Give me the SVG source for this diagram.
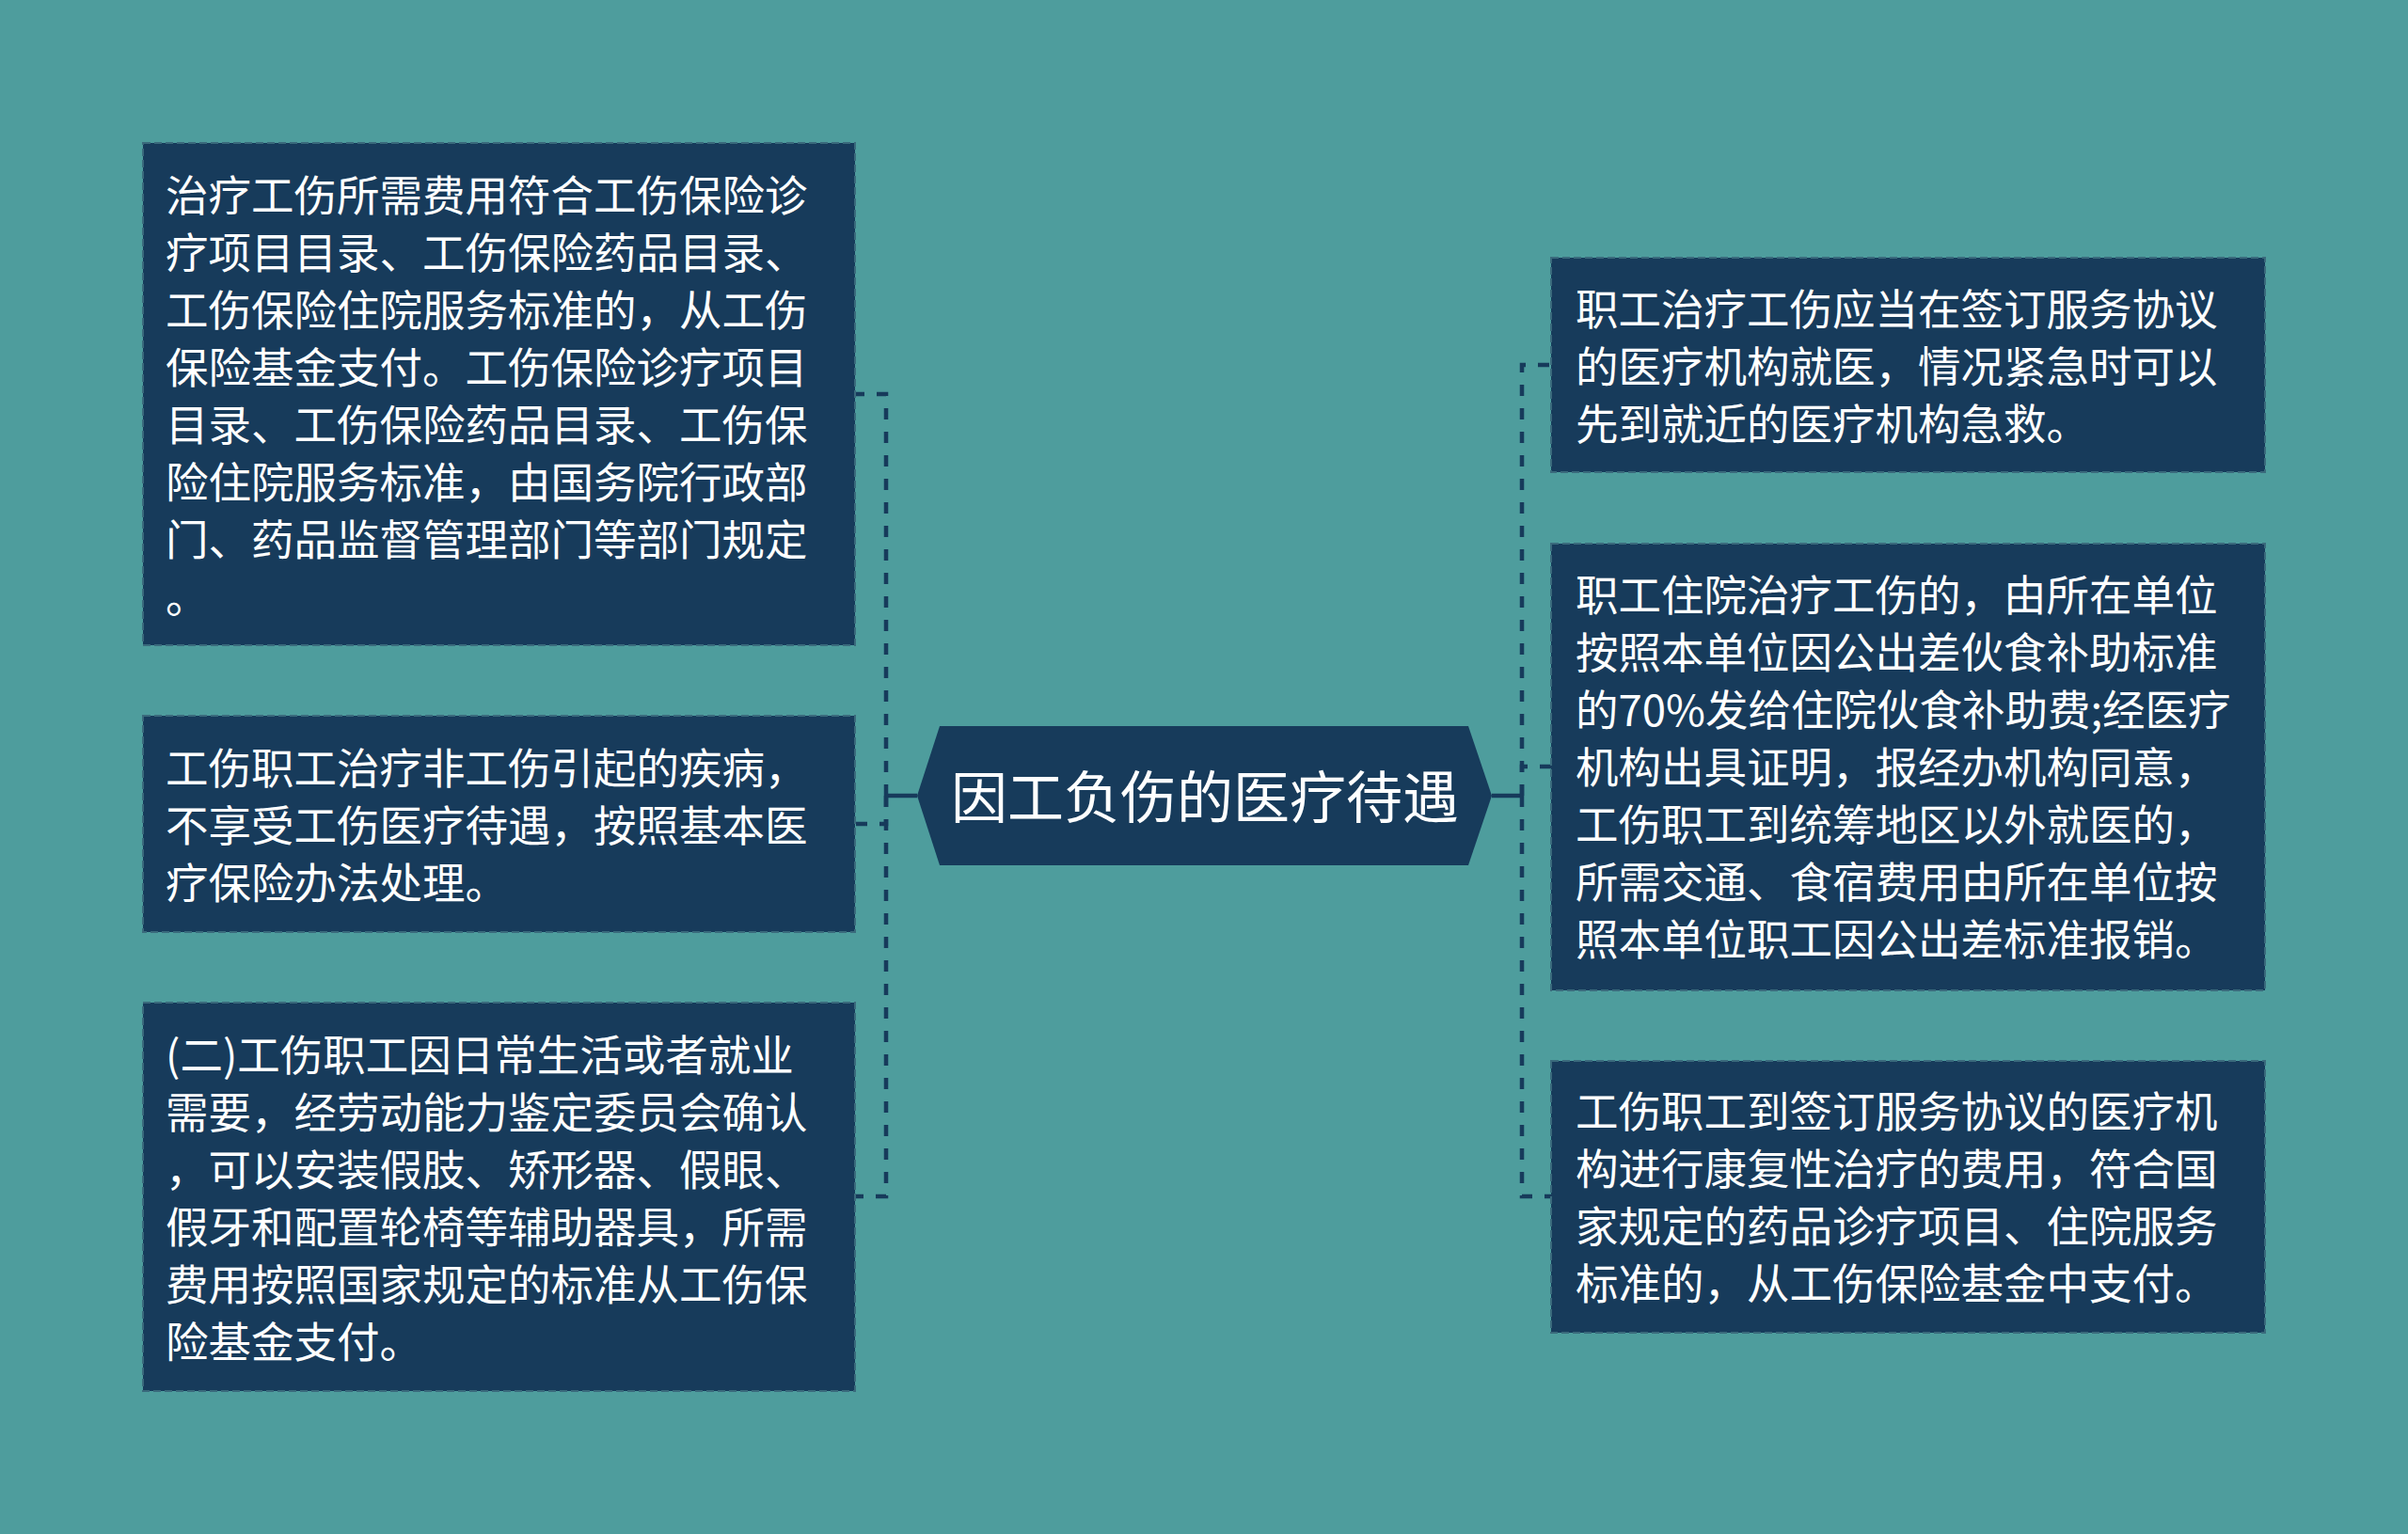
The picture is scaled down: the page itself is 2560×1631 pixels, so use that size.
<svg xmlns="http://www.w3.org/2000/svg" width="2560" height="1631" viewBox="0 0 2560 1631">
<style>
.bg{fill:#4e9d9d}
.box{fill:#173b5b;stroke:#3a6a7c;stroke-width:2;stroke-dasharray:8 4}
.t{font-family:"Noto Sans CJK SC","Noto Sans",sans-serif;font-size:45.5px;fill:#ffffff}
.title{font-family:"Noto Sans CJK SC","Noto Sans",sans-serif;font-size:60px;fill:#ffffff;text-anchor:middle}
.dash{fill:none;stroke:#173b5b;stroke-width:4.5;stroke-dasharray:12 13}
.solid{fill:none;stroke:#173b5b;stroke-width:4.5}
</style>
<rect class="bg" x="0" y="0" width="2560" height="1631"/>
<g id="connectors">
<path class="solid" d="M975 846 H942"/>
<path class="solid" d="M1586 846 H1618"/>
<path class="dash" d="M942 846 V419 H909"/>
<path class="dash" d="M942 846 V876 H909"/>
<path class="dash" d="M942 846 V1272 H909"/>
<path class="dash" d="M1618 846 V388 H1649"/>
<path class="dash" d="M1618 846 V815 H1649"/>
<path class="dash" d="M1618 846 V1272 H1649"/>
</g>
<g id="center">
<polygon points="975,846 999,772 1561,772 1586,846 1561,920 999,920" fill="#173b5b"/>
<text class="title" x="1281" y="870">因工负伤的医疗待遇</text>
</g>
<g id="left1">
<rect class="box" x="152" y="152" width="757" height="534"/>
<text class="t" x="176" y="225">治疗工伤所需费用符合工伤保险诊</text>
<text class="t" x="176" y="286">疗项目目录、工伤保险药品目录、</text>
<text class="t" x="176" y="347">工伤保险住院服务标准的，从工伤</text>
<text class="t" x="176" y="408">保险基金支付。工伤保险诊疗项目</text>
<text class="t" x="176" y="469">目录、工伤保险药品目录、工伤保</text>
<text class="t" x="176" y="530">险住院服务标准，由国务院行政部</text>
<text class="t" x="176" y="591">门、药品监督管理部门等部门规定</text>
<text class="t" x="176" y="652">。</text>
</g>
<g id="left2">
<rect class="box" x="152" y="761" width="757" height="230"/>
<text class="t" x="176" y="834">工伤职工治疗非工伤引起的疾病，</text>
<text class="t" x="176" y="895">不享受工伤医疗待遇，按照基本医</text>
<text class="t" x="176" y="956">疗保险办法处理。</text>
</g>
<g id="left3">
<rect class="box" x="152" y="1066" width="757" height="413"/>
<text class="t" x="176" y="1139">(二)工伤职工因日常生活或者就业</text>
<text class="t" x="176" y="1200">需要，经劳动能力鉴定委员会确认</text>
<text class="t" x="176" y="1261">，可以安装假肢、矫形器、假眼、</text>
<text class="t" x="176" y="1322">假牙和配置轮椅等辅助器具，所需</text>
<text class="t" x="176" y="1383">费用按照国家规定的标准从工伤保</text>
<text class="t" x="176" y="1444">险基金支付。</text>
</g>
<g id="right1">
<rect class="box" x="1649" y="274" width="759" height="228"/>
<text class="t" x="1675" y="346">职工治疗工伤应当在签订服务协议</text>
<text class="t" x="1675" y="407">的医疗机构就医，情况紧急时可以</text>
<text class="t" x="1675" y="468">先到就近的医疗机构急救。</text>
</g>
<g id="right2">
<rect class="box" x="1649" y="578" width="759" height="475"/>
<text class="t" x="1675" y="650">职工住院治疗工伤的，由所在单位</text>
<text class="t" x="1675" y="711">按照本单位因公出差伙食补助标准</text>
<text class="t" x="1675" y="772">的70%发给住院伙食补助费;经医疗</text>
<text class="t" x="1675" y="833">机构出具证明，报经办机构同意，</text>
<text class="t" x="1675" y="894">工伤职工到统筹地区以外就医的，</text>
<text class="t" x="1675" y="955">所需交通、食宿费用由所在单位按</text>
<text class="t" x="1675" y="1016">照本单位职工因公出差标准报销。</text>
</g>
<g id="right3">
<rect class="box" x="1649" y="1128" width="759" height="289"/>
<text class="t" x="1675" y="1199">工伤职工到签订服务协议的医疗机</text>
<text class="t" x="1675" y="1260">构进行康复性治疗的费用，符合国</text>
<text class="t" x="1675" y="1321">家规定的药品诊疗项目、住院服务</text>
<text class="t" x="1675" y="1382">标准的，从工伤保险基金中支付。</text>
</g>
</svg>
